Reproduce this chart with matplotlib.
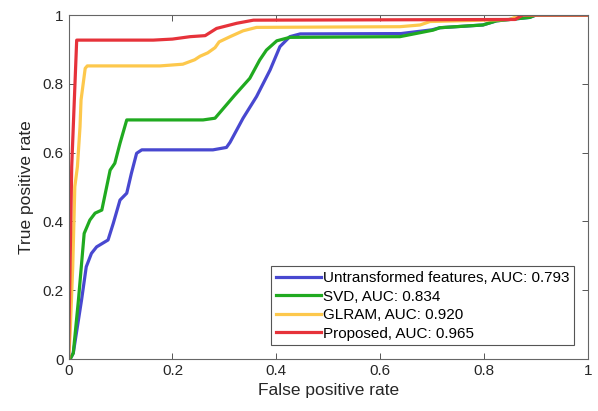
import matplotlib
matplotlib.use("Agg")
from matplotlib import pyplot as plt

plt.rcParams['font.family'] = ['Liberation Sans', 'DejaVu Sans']

# ROC points (false positive rate, true positive rate)
fpr_untr = [0.003, 0.009, 0.025, 0.034, 0.044, 0.054, 0.076, 0.086, 0.099, 0.112, 0.121, 0.131, 0.141,
            0.278, 0.304, 0.311, 0.336, 0.362, 0.388, 0.407, 0.426, 0.446, 0.64, 0.70, 0.715, 0.798,
            0.824, 0.888, 0.90, 1.0]
tpr_untr = [0.0, 0.017, 0.172, 0.268, 0.307, 0.326, 0.346, 0.394, 0.462, 0.482, 0.540, 0.598, 0.608,
            0.608, 0.615, 0.63, 0.70, 0.763, 0.84, 0.908, 0.937, 0.945, 0.946, 0.957, 0.963, 0.971,
            0.983, 0.993, 1.0, 1.0]

fpr_svd = [0.003, 0.009, 0.019, 0.030, 0.041, 0.051, 0.064, 0.080, 0.089, 0.099, 0.112, 0.259, 0.282,
           0.320, 0.349, 0.368, 0.381, 0.401, 0.426, 0.638, 0.702, 0.715, 0.798, 0.824, 0.888, 0.90, 1.0]
tpr_svd = [0.0, 0.017, 0.172, 0.365, 0.404, 0.424, 0.433, 0.549, 0.569, 0.627, 0.695, 0.695, 0.70,
           0.767, 0.816, 0.869, 0.898, 0.925, 0.935, 0.937, 0.956, 0.963, 0.971, 0.983, 0.993, 1.0, 1.0]

fpr_glram = [0.0, 0.003, 0.008, 0.012, 0.017, 0.022, 0.024, 0.032, 0.036, 0.176, 0.22, 0.243, 0.253,
             0.268, 0.282, 0.29, 0.311, 0.336, 0.362, 0.638, 0.677, 0.696, 0.85, 0.87, 1.0]
tpr_glram = [0.0, 0.075, 0.268, 0.501, 0.559, 0.675, 0.753, 0.845, 0.852, 0.852, 0.857, 0.87, 0.88,
             0.89, 0.905, 0.922, 0.937, 0.954, 0.964, 0.966, 0.971, 0.981, 0.987, 1.0, 1.0]

fpr_prop = [0.0, 0.001, 0.006, 0.0156, 0.163, 0.2, 0.234, 0.263, 0.285, 0.324, 0.356, 0.86, 0.875, 1.0]
tpr_prop = [0.0, 0.1, 0.559, 0.927, 0.927, 0.93, 0.937, 0.94, 0.961, 0.976, 0.985, 0.987, 1.0, 1.0]

labels = ['Untransformed features, AUC: 0.793', 'SVD, AUC: 0.834',
          'GLRAM, AUC: 0.920', 'Proposed, AUC: 0.965']
colors = ['#4848d0', '#20aa20', '#fdc84c', '#e6323a']

fig = plt.figure(figsize=(5.98, 4.11), dpi=100)
ax = fig.add_axes([0.1147, 0.1265, 0.8683, 0.837])

curves = [(fpr_untr, tpr_untr), (fpr_svd, tpr_svd), (fpr_glram, tpr_glram), (fpr_prop, tpr_prop)]
for (x, y), lab, c in zip(curves, labels, colors):
    ax.plot(x, y, color=c, lw=2.3, label=lab, solid_joinstyle='round')

ax.set_xlim(0, 1)
ax.set_ylim(0, 1)
ax.set_xticks([0, 0.2, 0.4, 0.6, 0.8, 1])
ax.set_yticks([0, 0.2, 0.4, 0.6, 0.8, 1])
ax.set_xticklabels(['0', '0.2', '0.4', '0.6', '0.8', '1'])
ax.set_yticklabels(['0', '0.2', '0.4', '0.6', '0.8', '1'])
ax.tick_params(direction='in', top=True, right=True, length=4, width=0.7,
               color='#555555', labelsize=11, labelcolor='#262626')
for s in ax.spines.values():
    s.set_color('#666666')
    s.set_linewidth(0.8)

ax.set_xlabel('False positive rate', fontsize=12.5, color='#262626', labelpad=4)
ax.set_ylabel('True positive rate', fontsize=12.5, color='#262626', labelpad=6)

leg = ax.legend(loc='lower right', fontsize=11, fancybox=False, framealpha=1,
                edgecolor='#555555', handlelength=3.0, handletextpad=0.1,
                labelspacing=0.3, borderpad=0.3, borderaxespad=0.9)
leg.get_frame().set_linewidth(0.8)

fig.savefig('out.png', dpi=100)
